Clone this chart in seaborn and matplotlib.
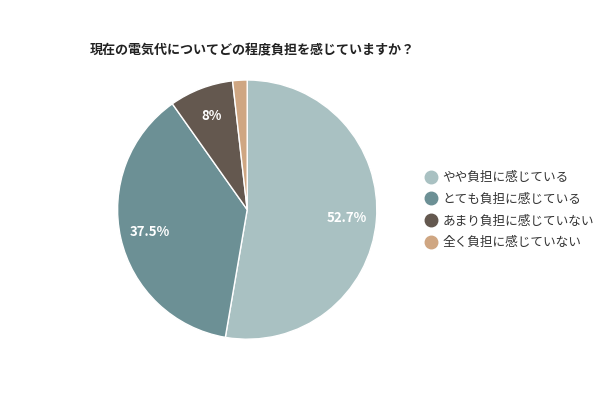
import matplotlib
matplotlib.use("Agg")
import matplotlib.pyplot as plt
import seaborn as sns
from matplotlib.lines import Line2D

categories = ["やや負担に感じている", "とても負担に感じている", "あまり負担に感じていない", "全く負担に感じていない"]
values = [52.7, 37.5, 8.0, 1.8]
colors = ["#a9c1c2", "#6c9095", "#64584f", "#cfa682"]
title = "現在の電気代についてどの程度負担を感じていますか？"

sns.set_style("white")
plt.rcParams["font.family"] = ["Noto Sans CJK JP", "DejaVu Sans"]

fig = plt.figure(figsize=(6, 4), dpi=100)
ax = fig.add_axes([0.196, 0.152, 0.432, 0.648])

wedges, texts, autotexts = ax.pie(
    values,
    colors=colors,
    startangle=90,
    counterclock=False,
    autopct=lambda p: f"{round(p, 1):g}%" if p > 5 else "",
    pctdistance=0.77,
    wedgeprops=dict(edgecolor="white", linewidth=1),
    textprops=dict(color="white", fontsize=9.5, fontweight="bold"),
)
ax.set_xlim(-1, 1)
ax.set_ylim(-1, 1)
ax.set_aspect("equal")

fig.text(90 / 600, 1 - 50 / 400, title, fontsize=9.4, fontweight="bold",
         color="#222222", ha="left", va="center")

handles = [Line2D([0], [0], marker="o", linestyle="", markersize=9,
                  markerfacecolor=c, markeredgecolor=c) for c in colors]
fig.legend(handles, categories, loc="upper left",
           bbox_to_anchor=(420 / 600, 1 - 165 / 400), frameon=False,
           fontsize=9.1, handlelength=0.8, handletextpad=0.5,
           labelspacing=0.68, borderpad=0, labelcolor="#333333")

fig.savefig("out.png", dpi=100)
